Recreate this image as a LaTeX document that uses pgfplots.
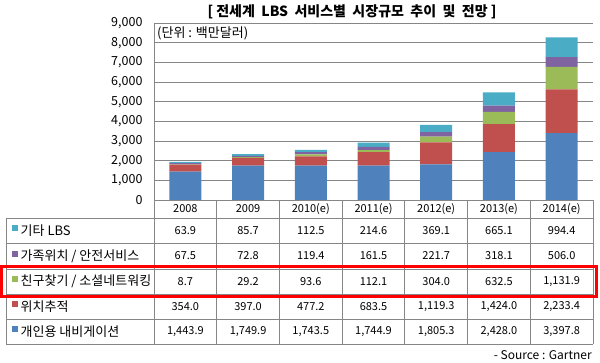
\documentclass[border=0pt]{standalone}
\usepackage{pgfplots}
\pgfplotsset{compat=1.18}
\usepackage{fontspec}
\setmainfont{Noto Sans CJK KR}
\definecolor{cblue}{HTML}{4F81BD}
\definecolor{cred}{HTML}{C0504D}
\definecolor{cgreen}{HTML}{9BBB59}
\definecolor{cpurple}{HTML}{8064A2}
\definecolor{ccyan}{HTML}{4BACC6}
\definecolor{gridgray}{HTML}{868686}
\begin{document}
\begin{tikzpicture}[x=1pt,y=1pt]
\useasboundingbox (0,0) rectangle (600,363);
\begin{axis}[
  at={(154pt,163pt)}, anchor=south west,
  scale only axis, width=439pt, height=177pt,
  xmin=-0.5, xmax=6.5, ymin=0, ymax=9000,
  ybar stacked, bar width=32pt,
  axis line style={draw=none},
  xtick=\empty,
  ytick={0,1000,...,9000},
  major tick length=0pt,
  ymajorgrids, grid style={color=gridgray, line width=0.8pt},
  scaled y ticks=false,
  /pgf/number format/.cd, fixed, 1000 sep={,}, assume math mode=true,
  /pgfplots/.cd,
  yticklabel style={font=\fontsize{12.5}{14}\selectfont, anchor=east, xshift=-8pt},
]
\addplot[fill=cblue, draw=none] coordinates {(0,1443.9) (1,1749.9) (2,1743.5) (3,1744.9) (4,1805.3) (5,2428.0) (6,3397.8)};
\addplot[fill=cred, draw=none] coordinates {(0,354.0) (1,397.0) (2,477.2) (3,683.5) (4,1119.3) (5,1424.0) (6,2233.4)};
\addplot[fill=cgreen, draw=none] coordinates {(0,8.7) (1,29.2) (2,93.6) (3,112.1) (4,304.0) (5,632.5) (6,1131.9)};
\addplot[fill=cpurple, draw=none] coordinates {(0,67.5) (1,72.8) (2,119.4) (3,161.5) (4,221.7) (5,318.1) (6,506.0)};
\addplot[fill=ccyan, draw=none] coordinates {(0,63.9) (1,85.7) (2,112.5) (3,214.6) (4,369.1) (5,665.1) (6,994.4)};
\end{axis}
\begin{scope}[shift={(0,363)}, yscale=-1]
  % title and unit
  \node[font=\fontsize{14}{16}\selectfont\bfseries] at (352,12) {[ 전세계\ \ LBS\ \ 서비스별\ \ 시장규모\ \ 추이\ \ 및\ \ 전망 ]};
  \node[font=\fontsize{13}{15}\selectfont, anchor=west, inner sep=0pt] at (157,33) {(단위 : 백만달러)};
  % table lines
  \draw[gridgray, line width=0.8pt] (154,23) -- (154,344);
  \foreach \yy in {218,243,269,294,319,344} \draw[gridgray, line width=0.8pt] (6,\yy) -- (593,\yy);
  \draw[gridgray, line width=0.8pt] (6,218) -- (6,344);
  \foreach \k in {1,...,7} \draw[gridgray, line width=0.8pt] ({154+62.714*\k},200) -- ({154+62.714*\k},344);
  % header
  \foreach \lab [count=\i from 0] in {2008,2009,2010(e),2011(e),2012(e),2013(e),2014(e)}
    \node[font=\fontsize{11}{13}\selectfont] at ({154+62.714*(\i+0.5)},209) {\lab};
  % rows
  \foreach \v [count=\i from 0] in {63.9,85.7,112.5,214.6,369.1,665.1,994.4}
    \node[font=\fontsize{11}{13}\selectfont] at ({154+62.714*(\i+0.5)},230.5) {\v};
  \foreach \v [count=\i from 0] in {67.5,72.8,119.4,161.5,221.7,318.1,506.0}
    \node[font=\fontsize{11}{13}\selectfont] at ({154+62.714*(\i+0.5)},256) {\v};
  \foreach \v [count=\i from 0] in {8.7,29.2,93.6,112.1,304.0,632.5,{1,131.9}}
    \node[font=\fontsize{11}{13}\selectfont] at ({154+62.714*(\i+0.5)},281.5) {\v};
  \foreach \v [count=\i from 0] in {354.0,397.0,477.2,683.5,{1,119.3},{1,424.0},{2,233.4}}
    \node[font=\fontsize{11}{13}\selectfont] at ({154+62.714*(\i+0.5)},306.5) {\v};
  \foreach \v [count=\i from 0] in {{1,443.9},{1,749.9},{1,743.5},{1,744.9},{1,805.3},{2,428.0},{3,397.8}}
    \node[font=\fontsize{11}{13}\selectfont] at ({154+62.714*(\i+0.5)},331.5) {\v};
  % legend labels
  \foreach \c/\lab/\yy in {ccyan/{기타 LBS}/230.5, cpurple/{가족위치 / 안전서비스}/256, cgreen/{친구찾기 / 소셜네트워킹}/281.5, cred/{위치추적}/306.5, cblue/{개인용 내비게이션}/331.5} {
    \fill[\c] (11.5,\yy-5) rectangle (17.5,\yy+1);
    \node[font=\fontsize{13}{15}\selectfont, anchor=west, inner sep=0pt] at (20.5,\yy) {\lab};
  }
  % red box
  \draw[red, line width=3pt] (1.5,266.5) rectangle (596.5,297);
  % source
  \node[font=\fontsize{12}{14}\selectfont, anchor=east, inner sep=0pt] at (592,355) {- Source : Gartner};
\end{scope}
\end{tikzpicture}
\end{document}
